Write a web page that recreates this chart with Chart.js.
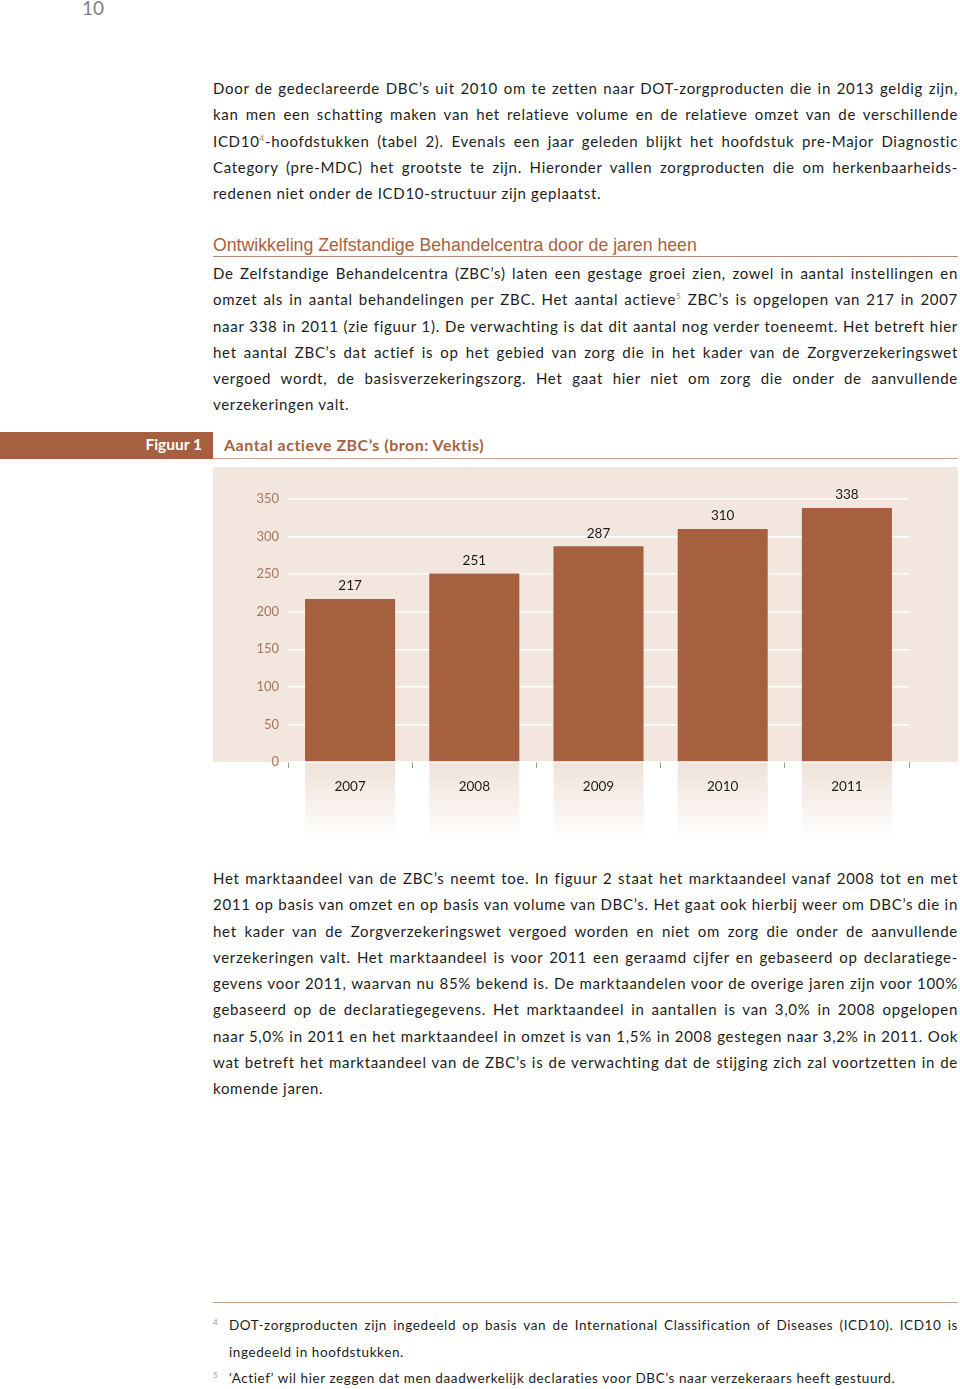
<!DOCTYPE html>
<html>
<head>
<meta charset="utf-8">
<script src="https://cdn.jsdelivr.net/npm/chart.js@4.4.1/dist/chart.umd.min.js"></script>
<style>
  body { margin: 0; width: 960px; height: 1389px; position: relative; background: #fff; overflow: hidden;
         font-family: Lato, "Open Sans", sans-serif; color: #1d1d1b; }
  .pagenr { position: absolute; left: 82px; top: -4px; font-size: 19px; color: #808080; }
  .txt { position: absolute; left: 213px; width: 745px; font-size: 15px; line-height: 26.3px; letter-spacing: 0.7px; }
  .txt .j, .fn .j { display: block; text-align: justify; text-align-last: justify; }
  .txt .l, .fn .l { display: block; }
  sup { font-size: 8px; color: #b07a60; vertical-align: 6px; line-height: 0; }
  .kop { position: absolute; left: 213px; top: 234px; width: 745px; height: 22px; border-bottom: 1.5px solid #b98a70;
         font-family: "Liberation Sans", Arial, sans-serif; font-size: 17.7px; color: #a8623f; line-height: 22px; }
  .band { position: absolute; left: 0; top: 432px; width: 213px; height: 27px; background: #a7603f; }
  .band span { position: absolute; right: 11px; top: 3px; color: #fff; font-weight: bold; font-size: 15.5px; letter-spacing: 0; }
  .figtitle { position: absolute; left: 213px; top: 432px; width: 745px; height: 26px; border-bottom: 1.5px solid #c9a28c; }
  .figtitle span { position: absolute; left: 11px; top: 3px; color: #a8623f; font-weight: bold; font-size: 16px; letter-spacing: 0.5px; }
  .chartbox { position: absolute; left: 213px; top: 467px; width: 745px; height: 385px; }
  .rule { position: absolute; left: 213px; top: 1302px; width: 745px; border-top: 1.5px solid #c9a28c; }
  .fn { position: absolute; left: 229px; width: 729px; font-size: 13.5px; line-height: 26.5px; letter-spacing: 0.6px; }
  .fnr { position: absolute; left: 213px; font-size: 8px; color: #999; }
</style>
</head>
<body>
<div class="pagenr">10</div>

<div class="txt" style="top:75px">
  <span class="j">Door de gedeclareerde DBC’s uit 2010 om te zetten naar DOT-zorgproducten die in 2013 geldig zijn,</span>
  <span class="j">kan men een schatting maken van het relatieve volume en de relatieve omzet van de verschillende</span>
  <span class="j">ICD10<sup>4</sup>-hoofdstukken (tabel 2). Evenals een jaar geleden blijkt het hoofdstuk pre-Major Diagnostic</span>
  <span class="j">Category (pre-MDC) het grootste te zijn. Hieronder vallen zorgproducten die om herkenbaarheids-</span>
  <span class="l">redenen niet onder de ICD10-structuur zijn geplaatst.</span>
</div>

<div class="kop">Ontwikkeling Zelfstandige Behandelcentra door de jaren heen</div>

<div class="txt" style="top:260px">
  <span class="j">De Zelfstandige Behandelcentra (ZBC’s) laten een gestage groei zien, zowel in aantal instellingen en</span>
  <span class="j">omzet als in aantal behandelingen per ZBC. Het aantal actieve<sup>5</sup> ZBC’s is opgelopen van 217 in 2007</span>
  <span class="j">naar 338 in 2011 (zie figuur 1). De verwachting is dat dit aantal nog verder toeneemt. Het betreft hier</span>
  <span class="j">het aantal ZBC’s dat actief is op het gebied van zorg die in het kader van de Zorgverzekeringswet</span>
  <span class="j">vergoed wordt, de basisverzekeringszorg. Het gaat hier niet om zorg die onder de aanvullende</span>
  <span class="l">verzekeringen valt.</span>
</div>

<div class="band"><span>Figuur 1</span></div>
<div class="figtitle"><span>Aantal actieve ZBC’s (bron: Vektis)</span></div>

<div class="chartbox"><canvas id="zbcChart"></canvas></div>

<div class="txt" style="top:865px">
  <span class="j">Het marktaandeel van de ZBC’s neemt toe. In figuur 2 staat het marktaandeel vanaf 2008 tot en met</span>
  <span class="j">2011 op basis van omzet en op basis van volume van DBC’s. Het gaat ook hierbij weer om DBC’s die in</span>
  <span class="j">het kader van de Zorgverzekeringswet vergoed worden en niet om zorg die onder de aanvullende</span>
  <span class="j">verzekeringen valt. Het marktaandeel is voor 2011 een geraamd cijfer en gebaseerd op declaratiege-</span>
  <span class="j">gevens voor 2011, waarvan nu 85% bekend is. De marktaandelen voor de overige jaren zijn voor 100%</span>
  <span class="j">gebaseerd op de declaratiegegevens. Het marktaandeel in aantallen is van 3,0% in 2008 opgelopen</span>
  <span class="j">naar 5,0% in 2011 en het marktaandeel in omzet is van 1,5% in 2008 gestegen naar 3,2% in 2011. Ook</span>
  <span class="j">wat betreft het marktaandeel van de ZBC’s is de verwachting dat de stijging zich zal voortzetten in de</span>
  <span class="l">komende jaren.</span>
</div>

<div class="rule"></div>
<div class="fnr" style="top:1317px">4</div>
<div class="fnr" style="top:1370px">5</div>
<div class="fn" style="top:1312px">
  <span class="j">DOT-zorgproducten zijn ingedeeld op basis van de International Classification of Diseases (ICD10). ICD10 is</span>
  <span class="l">ingedeeld in hoofdstukken.</span>
  <span class="l">‘Actief’ wil hier zeggen dat men daadwerkelijk declaraties voor DBC’s naar verzekeraars heeft gestuurd.</span>
</div>

<script>
// data figuur 1
const years = ['2007', '2008', '2009', '2010', '2011'];
const activeZbcs = [217, 251, 287, 310, 338];
const yMax = 350;
const yStep = 50;

const barColor = '#a7603f';
const bgColor = '#f2e6de';

// beige achtergrond + vervagende kolommen onder de staven, en de waarden boven de staven
const zbcDecor = {
    id: 'zbcDecor',
    beforeDraw(chart) {
        const ctx = chart.ctx;
        const base = chart.scales.y.getPixelForValue(0);
        ctx.save();
        ctx.fillStyle = bgColor;
        ctx.fillRect(0, 0, chart.width, base);
        chart.getDatasetMeta(0).data.forEach(function (bar) {
            let g = ctx.createLinearGradient(0, base, 0, base + 78);
            g.addColorStop(0, 'rgba(239,226,216,1)');
            g.addColorStop(1, 'rgba(255,255,255,1)');
            ctx.fillStyle = g;
            ctx.fillRect(bar.x - bar.width / 2, base, bar.width, 78);
        });
        ctx.restore();
    },
    afterDatasetsDraw(chart) {
        const ctx = chart.ctx;
        ctx.save();
        ctx.fillStyle = '#1d1d1b';
        ctx.font = '13.5px Lato, sans-serif';
        ctx.textAlign = 'center';
        ctx.textBaseline = 'middle';
        chart.getDatasetMeta(0).data.forEach(function (bar, i) {
            ctx.fillText(activeZbcs[i], bar.x, bar.y - 13);
        });
        ctx.restore();
    }
};

new Chart(document.getElementById('zbcChart'), {
    type: 'bar',
    data: {
        labels: years,
        datasets: [{
            data: activeZbcs,
            backgroundColor: barColor,
            borderWidth: 0,
            categoryPercentage: 1,
            barPercentage: 0.725
        }]
    },
    options: {
        responsive: true,
        maintainAspectRatio: false,
        animation: false,
        layout: { padding: { top: 32, right: 49, left: 0, bottom: 0 } },
        plugins: { legend: { display: false }, tooltip: { enabled: false } },
        scales: {
            x: {
                afterFit: function (scale) { scale.height = 90; },
                border: { display: false },
                grid: { offset: true, drawOnChartArea: false, drawTicks: true, tickLength: 6, color: '#9a9a9a', lineWidth: 1 },
                ticks: { color: '#1d1d1b', font: { family: 'Lato', size: 13.5 }, padding: 11 }
            },
            y: {
                min: 0,
                max: yMax,
                afterFit: function (scale) { scale.width = 75; },
                border: { display: false },
                grid: { color: '#ffffff', lineWidth: 1.5, drawTicks: false },
                ticks: { stepSize: yStep, color: '#a8765d', font: { family: 'Lato', size: 13 }, padding: 9 }
            }
        }
    },
    plugins: [zbcDecor]
});
</script>
</body>
</html>
